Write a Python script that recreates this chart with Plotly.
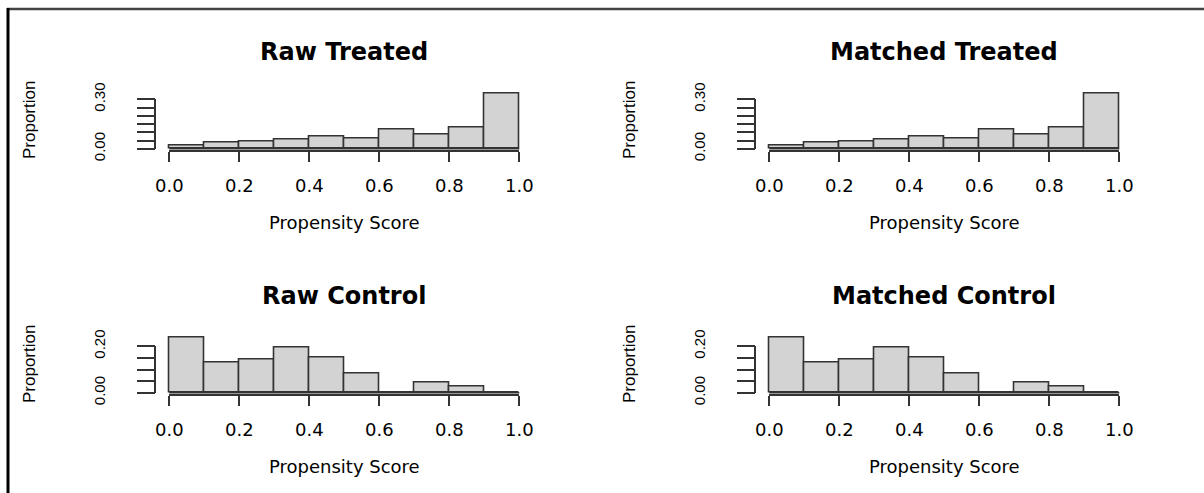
import plotly.graph_objects as go

# ---------------- data ----------------
bin_edges = [0.0, 0.1, 0.2, 0.3, 0.4, 0.5, 0.6, 0.7, 0.8, 0.9, 1.0]
raw_treated = [0.018, 0.036, 0.045, 0.059, 0.073, 0.063, 0.115, 0.085, 0.130, 0.334]
matched_treated = [0.018, 0.036, 0.045, 0.059, 0.073, 0.063, 0.115, 0.085, 0.130, 0.334]
raw_control = [0.237, 0.130, 0.143, 0.197, 0.151, 0.081, 0.0, 0.043, 0.029, 0.0]
matched_control = [0.237, 0.130, 0.143, 0.197, 0.151, 0.081, 0.0, 0.043, 0.029, 0.0]
panel_titles = ["Raw Treated", "Matched Treated", "Raw Control", "Matched Control"]
x_tick_vals = [0.0, 0.2, 0.4, 0.6, 0.8, 1.0]
x_tick_text = ["0.0", "0.2", "0.4", "0.6", "0.8", "1.0"]
y_tick_vals_treated = [0.0, 0.05, 0.10, 0.15, 0.20, 0.25, 0.30]
y_tick_text_treated = ["0.00", "", "", "", "", "", "0.30"]
y_tick_vals_control = [0.0, 0.05, 0.10, 0.15, 0.20]
y_tick_text_control = ["0.00", "", "", "", "0.20"]
x_label = "Propensity Score"
y_label = "Proportion"

# ---------------- layout constants (pixels) ----------------
W, H = 1204, 493
COL_DX, ROW_DY = 600, 244
REGION_LEFT, REGION_W = 155.3, 378.0
REGION_BOTTOM, REGION_H = 151.0, 59.5
INK = "#333333"
FILL = "#D3D3D3"


def px(x):
    return x / W


def py(y):
    return 1 - y / H


panels = [
    (raw_treated, y_tick_vals_treated, y_tick_text_treated, 0, 0),
    (matched_treated, y_tick_vals_treated, y_tick_text_treated, 1, 0),
    (raw_control, y_tick_vals_control, y_tick_text_control, 0, 1),
    (matched_control, y_tick_vals_control, y_tick_text_control, 1, 1),
]

centers = [(a + b) / 2 for a, b in zip(bin_edges[:-1], bin_edges[1:])]
widths = [b - a for a, b in zip(bin_edges[:-1], bin_edges[1:])]

fig = go.Figure()
layout = {}
annotations = []


def ax_key(kind, n):
    return f"{kind}axis" if n == 1 else f"{kind}axis{n}"


def ax_ref(kind, n):
    return kind if n == 1 else f"{kind}{n}"


for i, (vals, ytv, ytt, c, r) in enumerate(panels):
    left = REGION_LEFT + c * COL_DX
    bottom = REGION_BOTTOM + r * ROW_DY
    top = bottom - REGION_H
    right = left + REGION_W
    x0, x1 = bin_edges[0], bin_edges[-1]
    xr = [x0 - 0.04 * (x1 - x0), x1 + 0.04 * (x1 - x0)]
    M = max(vals)
    yr = [-0.04 * M, 1.04 * M]

    def xpix(v):
        return left + (v - xr[0]) / (xr[1] - xr[0]) * REGION_W

    def ypix(v):
        return bottom - (v - yr[0]) / (yr[1] - yr[0]) * REGION_H

    nb = 2 * i + 1  # bar axes
    nv = 2 * i + 2  # visible axes

    layout[ax_key("x", nb)] = dict(domain=[px(left), px(right)], range=xr, visible=False,
                                   anchor=ax_ref("y", nb), fixedrange=True, automargin=False)
    layout[ax_key("y", nb)] = dict(domain=[py(bottom), py(top)], range=yr, visible=False,
                                   anchor=ax_ref("x", nb), fixedrange=True, automargin=False)

    fig.add_trace(go.Bar(x=centers, y=vals, width=widths,
                         marker=dict(color=FILL, line=dict(color=INK, width=1.6)),
                         xaxis=ax_ref("x", nb), yaxis=ax_ref("y", nb),
                         showlegend=False, hoverinfo="x+y"))
    fig.add_trace(go.Scatter(x=[x0, x1], y=[0, 0], mode="lines",
                             line=dict(color=INK, width=1.6),
                             xaxis=ax_ref("x", nb), yaxis=ax_ref("y", nb),
                             showlegend=False, hoverinfo="skip"))

    # visible axes (R style: span first..last tick, detached)
    layout[ax_key("x", nv)] = dict(
        domain=[px(xpix(x_tick_vals[0])), px(xpix(x_tick_vals[-1]))],
        range=[x_tick_vals[0], x_tick_vals[-1]],
        anchor="free", position=py(bottom), side="bottom",
        showline=True, linecolor=INK, linewidth=1.6,
        ticks="outside", ticklen=10, tickwidth=1.6, tickcolor=INK,
        tickvals=x_tick_vals, ticktext=x_tick_text,
        ticklabelstandoff=9, automargin=False,
        tickfont=dict(family="DejaVu Sans", size=18, color="black"),
        showgrid=False, zeroline=False, fixedrange=True)
    layout[ax_key("y", nv)] = dict(
        domain=[py(ypix(ytv[0])), py(ypix(ytv[-1]))],
        range=[ytv[0], ytv[-1]],
        anchor="free", position=px(left), side="left",
        showline=True, linecolor=INK, linewidth=1.6,
        ticks="outside", ticklen=18, tickwidth=1.6, tickcolor=INK,
        tickvals=ytv, ticktext=ytt, tickangle=-90,
        ticklabelstandoff=26, automargin=False,
        tickfont=dict(family="Liberation Sans, Arial", size=15, color="black"),
        showgrid=False, zeroline=False, fixedrange=True)
    fig.add_trace(go.Scatter(x=[None], y=[None], mode="markers",
                             xaxis=ax_ref("x", nv), yaxis=ax_ref("y", nv),
                             showlegend=False, hoverinfo="skip"))

    cx = (left + right) / 2
    annotations.append(dict(text=f"<b>{panel_titles[i]}</b>", x=px(cx), y=py(52 + r * ROW_DY),
                            xref="paper", yref="paper", showarrow=False,
                            xanchor="center", yanchor="middle",
                            font=dict(family="DejaVu Sans", size=24, color="black")))
    annotations.append(dict(text=x_label, x=px(cx), y=py(222 + r * ROW_DY),
                            xref="paper", yref="paper", showarrow=False,
                            xanchor="center", yanchor="middle",
                            font=dict(family="DejaVu Sans", size=18, color="black")))
    annotations.append(dict(text=y_label, x=px(29 + c * COL_DX), y=py(120 + r * ROW_DY),
                            xref="paper", yref="paper", showarrow=False, textangle=-90,
                            xanchor="center", yanchor="middle",
                            font=dict(family="Liberation Sans, Arial", size=17, color="black")))

shapes = [
    dict(type="line", xref="paper", yref="paper", x0=px(7), x1=px(W), y0=py(9), y1=py(9),
         line=dict(color="#444444", width=2.5)),
    dict(type="line", xref="paper", yref="paper", x0=px(8), x1=px(8), y0=py(8), y1=py(H),
         line=dict(color="black", width=3)),
]

fig.update_layout(width=W, height=H,
                  margin=dict(l=0, r=0, t=0, b=0, pad=0, autoexpand=False),
                  paper_bgcolor="white", plot_bgcolor="rgba(0,0,0,0)",
                  bargap=0, showlegend=False,
                  annotations=annotations, shapes=shapes, **layout)

fig.write_html("out.html",
               config={"displayModeBar": False},
               post_script="document.body.style.margin='0';document.body.style.overflow='hidden';")
